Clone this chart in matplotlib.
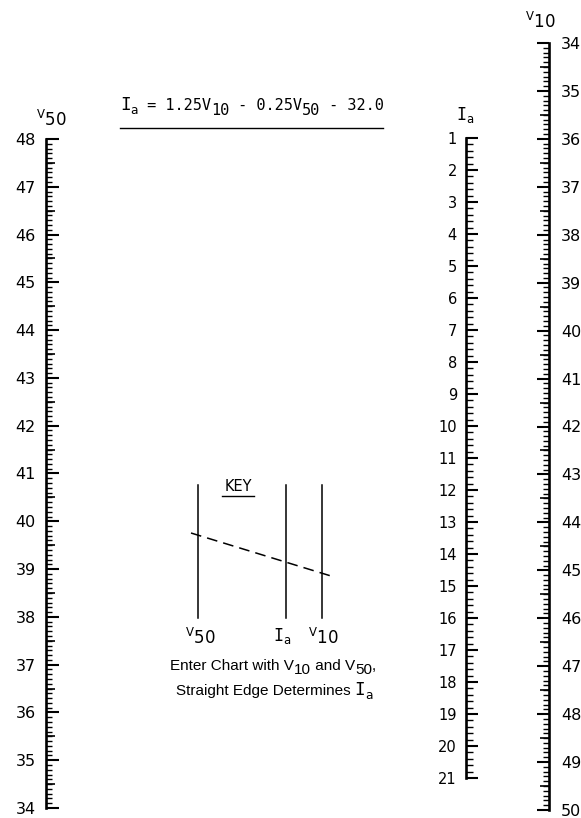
import matplotlib
matplotlib.use('Agg')
import matplotlib.pyplot as plt
import numpy as np

# ---------------- data (scale values) ----------------
v50_major = list(range(34, 49))          # V50 scale, 48 at top
v50_step_minor = 0.1
v50_step_mid = 0.5
ia_major = list(range(1, 22))            # Ia scale, 1 at top
ia_step_minor = 0.2
v10_major = list(range(34, 51))          # V10 scale, 34 at top
v10_step_minor = 0.1
v10_step_mid = 0.5

# equation pieces: (text, lowered?)
eq_runs = [('I', 'I'), ('a', 'sub'), (' = 1.25V', ''), ('10', 'low'),
           (' - 0.25V', ''), ('50', 'low'), (' - 32.0', '')]
note1_runs = [('Enter Chart with V', ''), ('10', 'low'), (' and V', ''),
              ('50', 'low'), (',', '')]
note2_runs = [('Straight Edge Determines ', ''), ('I', 'I'), ('a', 'sub')]

# ---------------- figure ----------------
W, H = 581, 818
fig = plt.figure(figsize=(W / 100, H / 100), dpi=100)
fig.patch.set_facecolor('white')

SPINE_LW = 1.9
MAJ_W, MIN_W = 1.5, 1.0


def make_scale(x_px, y_top_px, y_bot_px, v_top, v_bot, majors, minor_step,
               mid_step=None, side='left', labelsize=11.5, pad=7,
               maj_len=9.0, min_len=4.3, mid_len=6.5):
    wpx = 20
    left = x_px / W if side == 'left' else (x_px - wpx) / W
    ax = fig.add_axes([left, (H - y_bot_px) / H, wpx / W, (y_bot_px - y_top_px) / H])
    ax.set_facecolor('none')
    ax.set_ylim(v_bot, v_top)
    ax.set_xlim(0, 1)
    ax.set_xticks([])
    for s in ax.spines.values():
        s.set_visible(False)
    sp = ax.spines[side]
    sp.set_visible(True)
    sp.set_linewidth(SPINE_LW)
    if side == 'left':
        ax.yaxis.tick_left()
    else:
        ax.yaxis.tick_right()
    lo, hi = min(v_top, v_bot), max(v_top, v_bot)
    minors = np.round(np.arange(lo, hi + 1e-9, minor_step), 3)
    ax.set_yticks(majors)
    ax.set_yticklabels([str(m) for m in majors])
    ax.set_yticks([m for m in minors if abs(m - round(m)) > 1e-6], minor=True)
    ax.tick_params(axis='y', which='major', direction='in', length=maj_len,
                   width=MAJ_W, labelsize=labelsize, pad=pad, color='black')
    ax.tick_params(axis='y', which='minor', direction='in', length=min_len,
                   width=MIN_W, color='black')
    if mid_step is not None:
        mids = [m for m in np.arange(lo, hi + 1e-9, mid_step) if abs(m - round(m)) > 1e-6]
        frac = (mid_len * 100 / 72) / wpx
        x0, x1 = (0, frac) if side == 'left' else (1 - frac, 1)
        ax.hlines(mids, x0, x1, transform=ax.get_yaxis_transform(),
                  colors='black', linewidth=MIN_W * 1.2, clip_on=False)
    return ax


ax50 = make_scale(46, 139, 808, 48, 34, v50_major, v50_step_minor, v50_step_mid,
                  side='left', labelsize=11.5, pad=7.5)
axia = make_scale(466, 138, 778, 1, 21, ia_major, ia_step_minor, None,
                  side='left', labelsize=10.5, pad=6.5, maj_len=8.6, min_len=5.0)
ax10 = make_scale(549, 43, 810, 34, 50, v10_major, v10_step_minor, v10_step_mid,
                  side='right', labelsize=11.5, pad=8.5)

# ---------------- overlay for text and key ----------------
ov = fig.add_axes([0, 0, 1, 1])
ov.set_xlim(0, W)
ov.set_ylim(H, 0)
ov.axis('off')
renderer = fig.canvas.get_renderer()


def text_width(s, size, family):
    t1 = ov.text(0, 0, '|' + s + '|', fontsize=size, family=family)
    t2 = ov.text(0, 0, '||', fontsize=size, family=family)
    w = t1.get_window_extent(renderer).width - t2.get_window_extent(renderer).width
    t1.remove()
    t2.remove()
    return w


def draw_runs(xc, ybase, runs, size, family, low_px, sub_px):
    pieces = []
    for s, kind in runs:
        fam, sz, dy = family, size, 0
        if kind == 'I':
            fam, sz = 'DejaVu Sans Mono', size * 1.15
        elif kind == 'sub':
            fam, sz, dy = 'DejaVu Sans', size * 0.8, sub_px
        elif kind == 'low':
            dy = low_px
        pieces.append((s, fam, sz, dy, text_width(s, sz, fam)))
    x = xc - sum(p[4] for p in pieces) / 2
    for s, fam, sz, dy, w in pieces:
        ov.text(x, ybase + dy, s, fontsize=sz, family=fam, ha='left', va='baseline')
        x += w


# scale titles
ov.text(51, 120, r'${}^{\mathrm{V}}\mathrm{50}$', ha='center', va='center', fontsize=12)
ov.text(465, 115, r'$\mathtt{I}_{\mathrm{a}}$', ha='center', va='center', fontsize=12)
ov.text(540, 22, r'${}^{\mathrm{V}}\mathrm{10}$', ha='center', va='center', fontsize=12)

# equation
draw_runs(252, 110, eq_runs, 11, 'DejaVu Sans Mono', low_px=5, sub_px=4)
ov.plot([120, 383], [128, 128], color='black', linewidth=1.0)

# key
ov.text(238, 491, 'KEY', ha='center', va='baseline', fontsize=10.5)
ov.plot([222, 254], [496, 496], color='black', linewidth=1.0)
for xk in (198, 286, 322):
    ov.plot([xk, xk], [485, 618], color='black', linewidth=1.1)
ov.plot([191, 331], [533, 576], color='black', linewidth=1.1, linestyle=(0, (7, 4)))
ov.text(200, 638, r'${}^{\mathrm{V}}\mathrm{50}$', ha='center', va='center', fontsize=12)
ov.text(282, 636, r'$\mathtt{I}_{\mathrm{a}}$', ha='center', va='center', fontsize=12)
ov.text(323, 638, r'${}^{\mathrm{V}}\mathrm{10}$', ha='center', va='center', fontsize=12)

draw_runs(273, 670, note1_runs, 11, 'Liberation Sans', low_px=4, sub_px=3)
draw_runs(274, 695, note2_runs, 11, 'Liberation Sans', low_px=4, sub_px=4)

fig.savefig('out.png', dpi=100, facecolor='white')
